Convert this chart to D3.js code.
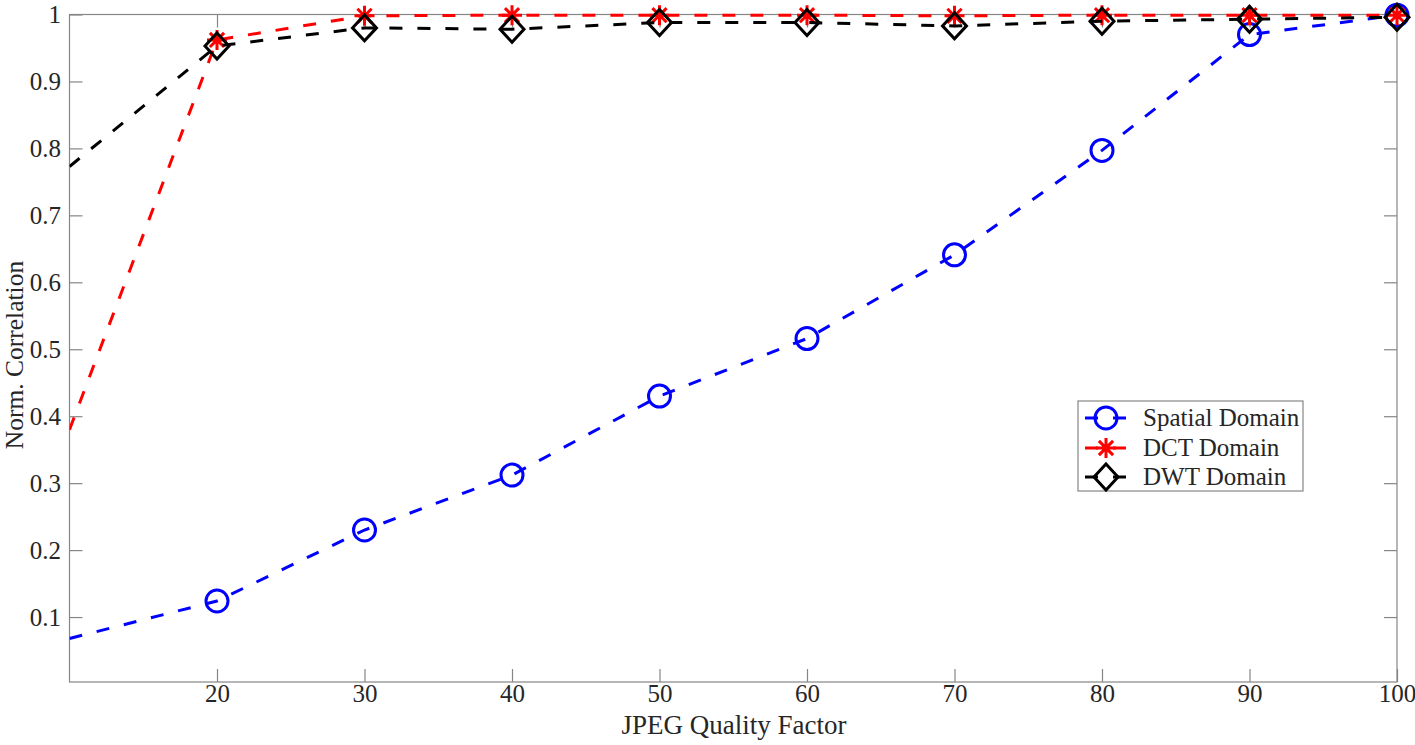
<!DOCTYPE html>
<html>
<head>
<meta charset="utf-8">
<script src="https://cdn.jsdelivr.net/npm/d3@7"></script>
<style>
  html, body { margin: 0; padding: 0; background: #fff; }
  svg { display: block; }
  text { font-family: "Liberation Serif", "Times New Roman", serif; fill: #262626; }
</style>
</head>
<body>
<svg id="chart" width="1415" height="745"></svg>
<script>
// ---- data ----
const quality = [10, 20, 30, 40, 50, 60, 70, 80, 90, 100];
const spatial = [0.068, 0.124, 0.230, 0.312, 0.430, 0.516, 0.641, 0.797, 0.970, 0.999];
const dct     = [0.380, 0.962, 0.998, 0.999, 0.999, 0.999, 0.998, 0.999, 0.999, 0.999];
const dwt     = [0.773, 0.953, 0.980, 0.978, 0.988, 0.988, 0.983, 0.990, 0.993, 0.996];
const xTicks = [20, 30, 40, 50, 60, 70, 80, 90, 100];
const yTicks = [0.1, 0.2, 0.3, 0.4, 0.5, 0.6, 0.7, 0.8, 0.9, 1];
const seriesNames = ["Spatial Domain", "DCT Domain", "DWT Domain"];
const seriesColors = ["#0000ff", "#ff0000", "#000000"];
const seriesMarkers = ["circle", "asterisk", "diamond"];
const xLabel = "JPEG Quality Factor";
const yLabel = "Norm. Correlation";

// ---- layout ----
const L = 69.5, R = 1397, T = 14.5, B = 682;
const svg = d3.select("#chart");
const x = d3.scaleLinear().domain([10, 100]).range([L, R]);
const y = d3.scaleLinear().domain([0.003, 1]).range([B, T]);

const axisColor = "#868686";
const tickLen = 13;
const fontSize = 25;
const labelSize = 27;

// Bottom axis (ticks inward)
const gx = svg.append("g").attr("transform", `translate(0,${B})`)
  .call(d3.axisBottom(x).tickValues(xTicks).tickSizeInner(-tickLen).tickSizeOuter(0).tickPadding(2.5).tickFormat(d3.format("d")));
// Top axis (ticks only)
const gxt = svg.append("g").attr("transform", `translate(0,${T})`)
  .call(d3.axisTop(x).tickValues(xTicks).tickSizeInner(-tickLen).tickSizeOuter(0).tickFormat(""));
// Left axis
const gy = svg.append("g").attr("transform", `translate(${L},0)`)
  .call(d3.axisLeft(y).tickValues(yTicks).tickSizeInner(-tickLen).tickSizeOuter(0).tickPadding(8.5).tickFormat(d => d === 1 ? "1" : d3.format(".1f")(d)));
// Right axis (ticks only)
const gyr = svg.append("g").attr("transform", `translate(${R},0)`)
  .call(d3.axisRight(y).tickValues(yTicks).tickSizeInner(-tickLen).tickSizeOuter(0).tickFormat(""));

[gx, gxt, gy, gyr].forEach(g => {
  g.select(".domain").remove();
  g.selectAll(".tick line").attr("stroke", axisColor).attr("stroke-width", 1.2);
  g.selectAll(".tick text").attr("font-size", fontSize).attr("font-family", "Liberation Serif").attr("fill", "#262626");
});

// Box
svg.append("rect").attr("x", L).attr("y", T).attr("width", R - L).attr("height", B - T)
  .attr("fill", "none").attr("stroke", axisColor).attr("stroke-width", 1.2);

// Axis labels
svg.append("text").attr("x", 734).attr("y", 734).attr("text-anchor", "middle")
  .attr("font-size", labelSize).text(xLabel);
svg.append("text").attr("transform", `translate(23,355) rotate(-90)`).attr("text-anchor", "middle")
  .attr("font-size", 25.5).text(yLabel);

// clip for lines
svg.append("clipPath").attr("id", "plotclip").append("rect")
  .attr("x", L).attr("y", T - 2).attr("width", R - L).attr("height", B - T + 2);

function drawMarker(g, type, cx, cy, color) {
  if (type === "circle") {
    g.append("circle").attr("cx", cx).attr("cy", cy).attr("r", 11)
      .attr("fill", "none").attr("stroke", color).attr("stroke-width", 3);
  } else if (type === "diamond") {
    const w = 12, h = 13;
    g.append("path").attr("d", `M${cx},${cy - h}L${cx + w},${cy}L${cx},${cy + h}L${cx - w},${cy}Z`)
      .attr("fill", "none").attr("stroke", color).attr("stroke-width", 3).attr("stroke-linejoin", "miter");
  } else if (type === "asterisk") {
    const s = 10, d = 7.1;
    g.append("path").attr("d",
      `M${cx - s},${cy}L${cx + s},${cy}M${cx},${cy - s}L${cx},${cy + s}` +
      `M${cx - d},${cy - d}L${cx + d},${cy + d}M${cx - d},${cy + d}L${cx + d},${cy - d}`)
      .attr("fill", "none").attr("stroke", color).attr("stroke-width", 3);
  }
}

const allSeries = [spatial, dct, dwt];
const line = d3.line().x((d, i) => x(quality[i])).y(d => y(d));

allSeries.forEach((vals, si) => {
  const g = svg.append("g");
  g.append("path").datum(vals).attr("d", line)
    .attr("clip-path", "url(#plotclip)")
    .attr("fill", "none").attr("stroke", seriesColors[si]).attr("stroke-width", 3)
    .attr("stroke-dasharray", "13,15");
  vals.forEach((v, i) => {
    if (i === 0) return; // x=10 point sits on the left edge without a visible marker
    drawMarker(g, seriesMarkers[si], x(quality[i]), y(v), seriesColors[si]);
  });
});

// Legend
const lg = svg.append("g");
lg.append("rect").attr("x", 1078).attr("y", 401).attr("width", 225).attr("height", 90)
  .attr("fill", "#fff").attr("stroke", axisColor).attr("stroke-width", 1.2);
const rowY = [418, 448, 477];
seriesNames.forEach((name, i) => {
  lg.append("line").attr("x1", 1085).attr("x2", 1127).attr("y1", rowY[i]).attr("y2", rowY[i])
    .attr("stroke", seriesColors[i]).attr("stroke-width", 3).attr("stroke-dasharray", "13,15");
  drawMarker(lg, seriesMarkers[i], 1106, rowY[i], seriesColors[i]);
  lg.append("text").attr("x", 1143).attr("y", rowY[i] + 8).attr("font-size", 25).text(name);
});
</script>
</body>
</html>
